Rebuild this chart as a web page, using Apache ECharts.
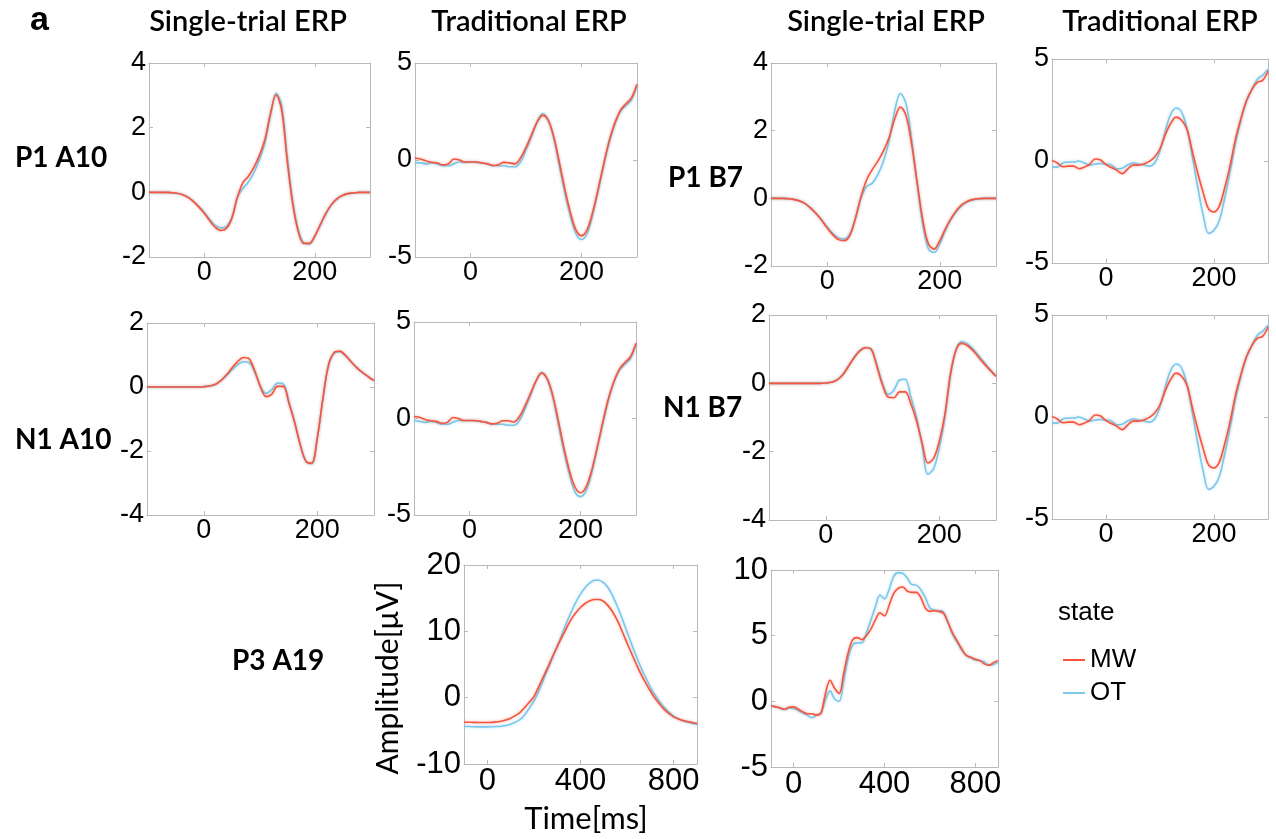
<!DOCTYPE html>
<html>
<head>
<meta charset="utf-8">
<script src="https://cdn.jsdelivr.net/npm/echarts@6/dist/echarts.min.js"></script>
<style>
html,body{margin:0;padding:0;background:#fff;}
#chart{width:1276px;height:839px;}
</style>
</head>
<body>
<div id="chart"></div>
<script>
// ---------- DATA ----------
const stateNames = ['MW', 'OT'];
const colTitles = ['Single-trial ERP', 'Traditional ERP', 'Single-trial ERP', 'Traditional ERP'];
const rowLabels = ['P1 A10', 'N1 A10', 'P1 B7', 'N1 B7', 'P3 A19'];
const xTicksShort = [0, 200];
const xTicksLong = [0, 400, 800];

const tShort = [-100,-90,-80,-70,-60,-50,-40,-30,-20,-10,0,10,20,30,40,50,60,70,80,90,100,110,120,130,140,150,160,170,180,190,200,210,220,230,240,250,260,270,280,290,300];
const tLong = [-100,-80,-60,-40,-20,0,20,40,60,80,100,120,140,160,180,200,220,240,260,280,300,320,340,360,380,400,420,440,460,480,500,520,540,560,580,600,620,640,660,680,700,720,740,760,780,800,820,840,860,880,900];

// P1 A10, single-trial
const p1A10SingleMW = [0,0,0,0,-0.01,-0.03,-0.07,-0.15,-0.28,-0.45,-0.65,-0.88,-1.08,-1.18,-1.12,-0.8,-0.15,0.3,0.5,0.78,1.15,1.65,2.45,3.02,2.55,1.0,-0.35,-1.2,-1.58,-1.58,-1.35,-1.0,-0.65,-0.38,-0.2,-0.1,-0.04,-0.02,0,0,0];
const p1A10SingleOT = [0,0,0,0,-0.01,-0.03,-0.07,-0.15,-0.27,-0.43,-0.62,-0.84,-1.02,-1.1,-1.06,-0.78,-0.15,0.12,0.32,0.62,1.02,1.55,2.38,3.06,2.7,1.15,-0.25,-1.15,-1.56,-1.6,-1.37,-1.02,-0.67,-0.39,-0.21,-0.1,-0.04,-0.02,0,0,0];
// P1 A10, traditional
const p1A10TradMW = [0.1,0.05,-0.05,-0.12,-0.15,-0.25,-0.2,0.05,0.0,-0.1,-0.1,-0.1,-0.15,-0.2,-0.28,-0.25,-0.12,-0.15,-0.2,0.1,0.65,1.3,1.95,2.3,2.05,1.2,-0.1,-1.5,-2.7,-3.6,-3.9,-3.6,-2.7,-1.5,-0.2,1.0,1.9,2.55,2.9,3.2,3.9];
const p1A10TradOT = [-0.15,-0.15,-0.2,-0.15,-0.2,-0.3,-0.3,-0.2,-0.1,-0.12,-0.1,-0.12,-0.15,-0.2,-0.3,-0.3,-0.3,-0.35,-0.35,-0.1,0.5,1.2,1.95,2.4,2.05,1.1,-0.3,-1.7,-2.9,-3.8,-4.1,-3.8,-2.85,-1.6,-0.3,0.9,1.85,2.5,2.8,3.1,3.85];
// P1 B7, single-trial
const p1B7SingleMW = [0,0,0,-0.01,-0.03,-0.07,-0.15,-0.28,-0.45,-0.65,-0.88,-1.08,-1.22,-1.25,-1.1,-0.6,0.05,0.55,0.85,1.1,1.4,1.8,2.35,2.7,2.45,1.6,0.45,-0.65,-1.35,-1.5,-1.25,-0.9,-0.6,-0.35,-0.18,-0.08,-0.03,-0.01,0,0,0];
const p1B7SingleOT = [0,0,0,-0.01,-0.03,-0.07,-0.15,-0.28,-0.44,-0.63,-0.85,-1.04,-1.17,-1.2,-1.06,-0.6,0.0,0.35,0.45,0.7,1.1,1.7,2.6,3.1,2.8,1.75,0.4,-0.8,-1.5,-1.6,-1.35,-0.95,-0.62,-0.38,-0.2,-0.1,-0.04,-0.01,0,0,0];
// P1 B7, traditional
const p1B7TradMW = [0.03,-0.1,-0.28,-0.25,-0.25,-0.38,-0.3,-0.15,0.1,0.05,-0.18,-0.32,-0.45,-0.62,-0.4,-0.2,-0.2,-0.15,-0.02,0.2,0.6,1.3,1.85,2.15,2.0,1.55,0.45,-0.6,-1.55,-2.35,-2.5,-2.2,-1.3,-0.2,1.1,2.1,2.95,3.5,3.85,3.95,4.4];
const p1B7TradOT = [-0.3,-0.3,-0.1,-0.05,-0.05,0.0,-0.1,-0.2,-0.15,-0.12,-0.15,-0.2,-0.38,-0.35,-0.2,-0.1,-0.15,-0.2,-0.25,-0.1,0.5,1.5,2.3,2.6,2.4,1.6,0.2,-1.3,-2.65,-3.55,-3.4,-2.9,-1.8,-0.5,0.9,2.0,2.9,3.5,4.0,4.2,4.5];
// N1 A10, single-trial
const n1A10SingleMW = [0,0,0,0,0,0,0,0,0,0,0.01,0.03,0.08,0.2,0.38,0.6,0.8,0.92,0.88,0.5,0.0,-0.3,-0.22,0.02,0.02,-0.5,-1.1,-1.8,-2.32,-2.38,-1.6,-0.35,0.7,1.08,1.12,0.98,0.78,0.6,0.45,0.32,0.2];
const n1A10SingleOT = [0,0,0,0,0,0,0,0,0,0,0.01,0.03,0.08,0.19,0.35,0.54,0.7,0.79,0.76,0.45,0.02,-0.2,-0.08,0.12,0.1,-0.45,-1.08,-1.8,-2.32,-2.4,-1.62,-0.37,0.68,1.06,1.1,0.97,0.78,0.6,0.45,0.32,0.2];
// N1 A10, traditional
const n1A10TradMW = [0.1,0.06,-0.05,-0.12,-0.15,-0.25,-0.2,0.05,0.0,-0.1,-0.1,-0.1,-0.15,-0.2,-0.28,-0.25,-0.12,-0.12,-0.18,0.1,0.65,1.3,1.95,2.35,2.05,1.2,-0.1,-1.5,-2.7,-3.55,-3.85,-3.55,-2.7,-1.5,-0.2,1.0,1.9,2.55,2.9,3.2,3.9];
const n1A10TradOT = [-0.12,-0.15,-0.2,-0.15,-0.2,-0.3,-0.3,-0.2,-0.1,-0.12,-0.1,-0.12,-0.15,-0.2,-0.3,-0.3,-0.3,-0.35,-0.35,-0.1,0.5,1.2,1.95,2.4,2.05,1.1,-0.3,-1.7,-2.9,-3.8,-4.05,-3.75,-2.85,-1.6,-0.3,0.9,1.85,2.5,2.8,3.1,3.85];
// N1 B7, single-trial
const n1B7SingleMW = [0,0,0,0,0,0,0,0,0,0,0.01,0.03,0.1,0.25,0.5,0.75,0.95,1.04,1.0,0.5,-0.05,-0.4,-0.42,-0.25,-0.25,-0.6,-1.1,-1.75,-2.33,-2.2,-1.7,-0.9,0.3,1.0,1.17,1.1,0.95,0.75,0.55,0.38,0.2];
const n1B7SingleOT = [0,0,0,0,0,0,0,0,0,0,0.01,0.03,0.1,0.25,0.5,0.76,0.96,1.05,1.0,0.55,0.0,-0.32,-0.2,0.1,0.12,-0.4,-1.0,-1.85,-2.66,-2.5,-1.9,-1.0,0.25,1.0,1.22,1.15,1.0,0.8,0.6,0.4,0.22];
// N1 B7, traditional
const n1B7TradMW = [0.03,-0.1,-0.28,-0.25,-0.25,-0.38,-0.3,-0.15,0.1,0.05,-0.18,-0.32,-0.45,-0.62,-0.4,-0.2,-0.2,-0.15,-0.02,0.2,0.6,1.3,1.85,2.15,2.0,1.55,0.45,-0.6,-1.55,-2.35,-2.5,-2.2,-1.3,-0.2,1.1,2.1,2.95,3.5,3.85,3.95,4.4];
const n1B7TradOT = [-0.3,-0.3,-0.1,-0.05,-0.05,0.0,-0.1,-0.2,-0.15,-0.12,-0.15,-0.2,-0.38,-0.35,-0.2,-0.1,-0.15,-0.2,-0.25,-0.1,0.5,1.5,2.3,2.6,2.4,1.6,0.2,-1.3,-2.65,-3.55,-3.4,-2.9,-1.8,-0.5,0.9,2.0,2.9,3.5,4.0,4.2,4.5];
// P3 A19, single-trial
const p3A19SingleMW = [-3.7,-3.7,-3.72,-3.74,-3.75,-3.75,-3.72,-3.65,-3.55,-3.35,-3.1,-2.7,-2.25,-1.5,-0.7,0.15,1.6,3.1,4.6,6.2,7.7,9.1,10.5,11.8,12.8,13.6,14.2,14.6,14.8,14.8,14.5,13.8,12.8,11.5,9.9,8.2,6.6,5.0,3.5,2.2,1.0,-0.1,-1.0,-1.8,-2.4,-2.9,-3.2,-3.45,-3.6,-3.75,-3.9];
const p3A19SingleOT = [-4.3,-4.35,-4.38,-4.4,-4.4,-4.4,-4.38,-4.35,-4.3,-4.2,-4.0,-3.7,-3.3,-2.6,-1.6,-0.5,0.9,2.6,4.3,6.0,7.7,9.5,11.3,12.9,14.4,15.6,16.6,17.3,17.7,17.7,17.3,16.5,15.2,13.6,11.8,9.9,8.0,6.2,4.5,3.0,1.6,0.4,-0.6,-1.5,-2.2,-2.8,-3.2,-3.5,-3.7,-3.85,-4.0];
// P3 A19, traditional
const p3A19TradMW = [-0.33,-0.42,-0.5,-0.6,-0.45,-0.42,-0.6,-0.8,-0.95,-0.95,-1.05,-0.9,0.6,1.6,1.0,0.6,2.1,3.7,4.7,4.85,4.7,5.0,5.5,6.2,6.75,6.5,7.3,8.2,8.6,8.7,8.4,8.3,8.3,7.9,7.1,6.85,6.9,6.85,6.7,6.0,5.2,4.6,4.0,3.5,3.35,3.2,3.1,2.85,2.75,2.95,3.1];
const p3A19TradOT = [-0.35,-0.4,-0.55,-0.62,-0.5,-0.55,-0.7,-0.9,-1.05,-1.25,-1.05,-0.9,0.1,0.8,0.2,0.0,1.5,3.3,4.3,4.45,4.45,5.2,6.2,7.2,8.1,7.8,8.5,9.5,9.8,9.75,9.4,8.9,8.85,8.5,7.9,7.1,6.95,6.9,6.8,6.0,5.1,4.5,3.9,3.5,3.3,3.15,3.1,3.0,2.75,2.8,3.0];

// ---------- LAYOUT ----------
const COL_MW = '#F4553C';
const COL_OT = '#7CC8EA';
const FRAME = '#b9b9b9';
const TICK_FONT = '"Liberation Sans", Arial, sans-serif';
const TEXT_FONT = 'Lato, "Open Sans", sans-serif';

const panels = [
  {box:[149,63,221,194],  t:tShort, xr:[-100,300], xt:xTicksShort, yr:[-2,4],  yi:2,  fs:27, mw:p1A10SingleMW, ot:p1A10SingleOT},
  {box:[415,63,222,194],  t:tShort, xr:[-100,300], xt:xTicksShort, yr:[-5,5],  yi:5,  fs:27, mw:p1A10TradMW,   ot:p1A10TradOT},
  {box:[771,63,225,203],  t:tShort, xr:[-100,300], xt:xTicksShort, yr:[-2,4],  yi:2,  fs:27, mw:p1B7SingleMW,  ot:p1B7SingleOT},
  {box:[1052,59,216,204], t:tShort, xr:[-100,300], xt:xTicksShort, yr:[-5,5],  yi:5,  fs:27, mw:p1B7TradMW,    ot:p1B7TradOT},
  {box:[147,323,227,192], t:tShort, xr:[-100,300], xt:xTicksShort, yr:[-4,2],  yi:2,  fs:27, mw:n1A10SingleMW, ot:n1A10SingleOT},
  {box:[414,322,222,193], t:tShort, xr:[-100,300], xt:xTicksShort, yr:[-5,5],  yi:5,  fs:27, mw:n1A10TradMW,   ot:n1A10TradOT},
  {box:[769,315,227,205], t:tShort, xr:[-100,300], xt:xTicksShort, yr:[-4,2],  yi:2,  fs:27, mw:n1B7SingleMW,  ot:n1B7SingleOT},
  {box:[1052,315,216,204],t:tShort, xr:[-100,300], xt:xTicksShort, yr:[-5,5],  yi:5,  fs:27, mw:n1B7TradMW,    ot:n1B7TradOT},
  {box:[464,565,233,199], t:tLong,  xr:[-100,900], xt:xTicksLong,  yr:[-10,20],yi:10, fs:31, mw:p3A19SingleMW, ot:p3A19SingleOT},
  {box:[771,570,227,197], t:tLong,  xr:[-100,900], xt:xTicksLong,  yr:[-5,10], yi:5,  fs:31, mw:p3A19TradMW,   ot:p3A19TradOT}
];

const grid = [], xAxis = [], yAxis = [], series = [];
panels.forEach((p, i) => {
  grid.push({left:p.box[0], top:p.box[1], width:p.box[2], height:p.box[3], containLabel:false, outerBoundsMode:'none'});
  const lineCfg = {show:true, onZero:false, lineStyle:{color:FRAME, width:1}};
  const tickCfg = {show:true, inside:true, length:4, lineStyle:{color:FRAME, width:1}};
  xAxis.push({type:'value', gridIndex:i, position:'bottom', min:p.xr[0], max:p.xr[1],
    axisLine:lineCfg, splitLine:{show:false},
    axisTick:Object.assign({customValues:p.xt}, tickCfg),
    axisLabel:{customValues:p.xt, color:'#000', fontSize:p.fs, fontFamily:TICK_FONT, margin:2}});
  xAxis.push({type:'value', gridIndex:i, position:'top', min:p.xr[0], max:p.xr[1],
    axisLine:lineCfg, splitLine:{show:false},
    axisTick:Object.assign({customValues:p.xt}, tickCfg),
    axisLabel:{show:false}});
  yAxis.push({type:'value', gridIndex:i, position:'left', min:p.yr[0], max:p.yr[1], interval:p.yi,
    axisLine:lineCfg, splitLine:{show:false}, axisTick:tickCfg,
    axisLabel:{color:'#000', fontSize:p.fs, fontFamily:TICK_FONT, margin:3, showMinLabel:true, showMaxLabel:true}});
  yAxis.push({type:'value', gridIndex:i, position:'right', min:p.yr[0], max:p.yr[1], interval:p.yi,
    axisLine:lineCfg, splitLine:{show:false}, axisTick:tickCfg, axisLabel:{show:false}});
  [['OT', p.ot, COL_OT, 'rgba(124,200,234,0.55)'], ['MW', p.mw, COL_MW, 'rgba(244,85,60,0.45)']].forEach(([name, arr, col, sh]) => {
    series.push({type:'line', name:name, xAxisIndex:2*i, yAxisIndex:2*i, symbol:'none', showSymbol:false,
      smooth:0.35, data:p.t.map((t, k) => [t, arr[k]]),
      lineStyle:{color:col, width:1.6, shadowColor:sh, shadowBlur:3},
      itemStyle:{color:col}, silent:true, z:name === 'MW' ? 3 : 2});
  });
});

const txt = (text, x, y, size, weight, align, extra) => Object.assign({
  type:'text', x:x, y:y,
  style:{text:text, font:weight + ' ' + size + 'px ' + TEXT_FONT, fill:'#000', textAlign:align || 'left', textVerticalAlign:'middle', align:align || 'left', verticalAlign:'middle'}
}, extra || {});

const graphic = [
  {type:'text', x:30, y:21, style:{text:'a', font:'bold 34px "Liberation Sans", Arial, sans-serif', fill:'#000', textVerticalAlign:'middle', verticalAlign:'middle'}},
  txt(colTitles[0], 248, 22, 29, '600', 'center'),
  txt(colTitles[1], 529, 22, 29, '600', 'center'),
  txt(colTitles[2], 886, 22, 29, '600', 'center'),
  txt(colTitles[3], 1160, 22, 29, '600', 'center'),
  txt(rowLabels[0], 15, 158, 28, 'bold', 'left'),
  txt(rowLabels[1], 15, 440, 28, 'bold', 'left'),
  txt(rowLabels[2], 668, 178, 28, 'bold', 'left'),
  txt(rowLabels[3], 663, 408, 28, 'bold', 'left'),
  txt(rowLabels[4], 232, 661, 28, 'bold', 'left'),
  txt('Amplitude[μV]', 388, 678, 30, 'normal', 'center', {rotation:Math.PI/2}),
  txt('Time[ms]', 586, 819, 31, 'normal', 'center'),
  {type:'text', x:1058, y:613, style:{text:'state', font:'26px "Liberation Sans", Arial, sans-serif', fill:'#000', textVerticalAlign:'middle', verticalAlign:'middle'}}
];

const option = {
  animation:false,
  backgroundColor:'#fff',
  grid, xAxis, yAxis, series, graphic,
  legend:{data:stateNames, orient:'vertical', left:1058, top:642, icon:'rect', itemWidth:22, itemHeight:2,
    itemGap:7, textStyle:{fontSize:26, fontFamily:TICK_FONT, color:'#000', lineHeight:26}, selectedMode:false}
};

const chart = echarts.init(document.getElementById('chart'), null, {renderer:'canvas'});
chart.setOption(option);
</script>
</body>
</html>
